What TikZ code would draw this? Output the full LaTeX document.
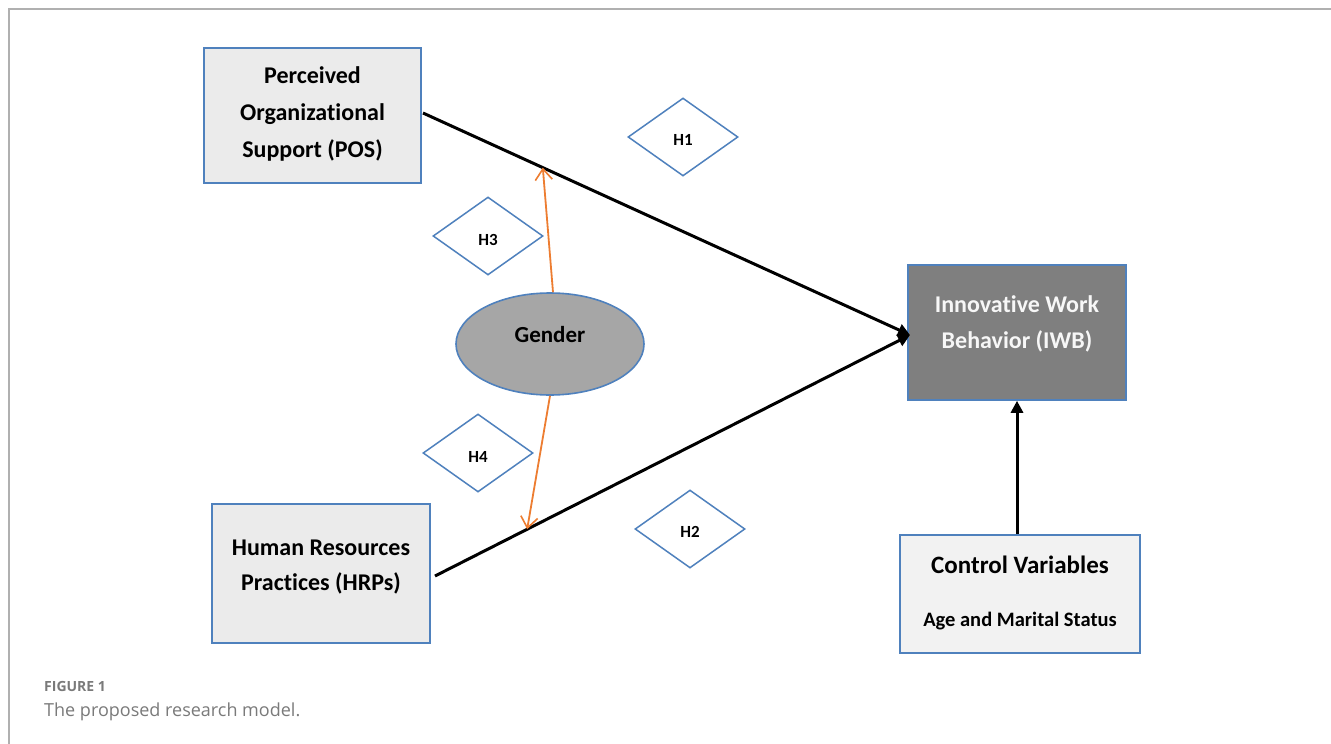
\documentclass[tikz,border=0pt]{standalone}
\usepackage{fontspec}
\setmainfont[Ligatures=NoCommon]{Carlito}
\newfontfamily\capfont{Open Sans}
\usetikzlibrary{shapes.geometric,arrows.meta,calc}
\definecolor{bordblue}{HTML}{4F81BD}
\definecolor{lightbox}{HTML}{EBEBEB}
\definecolor{ctrlbox}{HTML}{F2F2F2}
\definecolor{darkbox}{HTML}{7F7F7F}
\definecolor{gendfill}{HTML}{A6A6A6}
\definecolor{orangeln}{HTML}{ED7D31}
\definecolor{framegray}{HTML}{B0B0B0}
\definecolor{capgray}{HTML}{7A7A7A}
\tikzset{
  varbox/.style={draw=bordblue, line width=1.6pt, fill=lightbox, inner sep=0pt},
  boxtext/.style={align=center, font=\fontsize{24}{37}\selectfont\bfseries, inner sep=0pt},
  hyp/.style={diamond, draw=bordblue, line width=1.5pt, fill=white, aspect=1.41,
    minimum width=110pt, minimum height=78pt, inner sep=0pt},
  hyptext/.style={font=\fontsize{17}{18}\selectfont\bfseries, inner sep=0pt},
  mainarrow/.style={line width=3pt, -{Triangle[length=12pt,width=12pt]}},
  modarrow/.style={orangeln, line width=1.8pt, -{Straight Barb[length=11pt,width=17pt,line width=1.6pt]}}
}
\begin{document}
\begin{tikzpicture}[x=1pt,y=-1pt]
\useasboundingbox (0,0) rectangle (1331,744);
\fill[white] (0,0) rectangle (1331,744);
\draw[framegray, line width=1.6pt] (9,744) -- (9,9) -- (1331,9);
% boxes
\node[varbox, minimum width=217pt, minimum height=135pt] (pos) at (312.5,115.5) {};
\node[boxtext] (post) at (312.5,114) {Perceived\\Organizational\\Support (POS)};
\node[varbox, minimum width=218pt, minimum height=139pt] (hrp) at (321,573.5) {};
\node[boxtext, font=\fontsize{24}{35}\selectfont\bfseries] (hrpt) at (321,567) {Human Resources\\Practices (HRPs)};
\node[varbox, fill=darkbox, minimum width=218pt, minimum height=135pt] (iwb) at (1017,332.5) {};
\node[boxtext, text=white!94!gray, font=\fontsize{24}{36}\selectfont\bfseries] (iwbt) at (1017,324) {Innovative Work\\Behavior (IWB)};
\node[varbox, fill=ctrlbox, minimum width=240pt, minimum height=118pt] (ctrl) at (1020,594) {};
\node[font=\fontsize{25}{28}\selectfont\bfseries] (ctrlt) at (1020,565) {Control Variables};
\node[font=\fontsize{20.5}{24}\selectfont\bfseries] (ctrls) at (1020,621) {Age and Marital Status};
% gender
\node[ellipse, draw=bordblue, line width=1.6pt, fill=gendfill, minimum width=188pt, minimum height=102pt] (gen) at (550,344) {};
\node[font=\fontsize{23}{26}\selectfont\bfseries] (gent) at (550,335) {Gender};
% hypotheses
\node[hyp] (h1) at (683,137) {};
\node[hyptext] (h1t) at (683,140) {H1};
\node[hyp] (h3) at (488,236) {};
\node[hyptext] (h3t) at (488,240) {H3};
\node[hyp] (h4) at (478,453) {};
\node[hyptext] (h4t) at (478,457) {H4};
\node[hyp] (h2) at (690,529) {};
\node[hyptext] (h2t) at (690,532) {H2};
% connectors
\coordinate (tip) at (910,335);
\coordinate (posout) at (423,113);
\coordinate (hrpout) at (435,576);
\draw[mainarrow] (posout) -- (tip);
\draw[mainarrow] (hrpout) -- (tip);
\coordinate (ctop) at ($(ctrl.north)+(-3,0)$);
\draw[mainarrow] (ctop) -- (iwb.south);
\coordinate (m1) at ($(posout)!0.246!(tip)$);
\coordinate (m2) at ($(hrpout)!0.194!(tip)$);
\coordinate (g1) at ($(gen.north)+(3,0)$);
\coordinate (g2) at (gen.south);
\draw[modarrow] (g1) -- (m1);
\draw[modarrow] (g2) -- (m2);
% caption
\node[anchor=base west, inner sep=0pt, text=capgray, font=\capfont\fontsize{14}{15}\selectfont\bfseries] (fig) at (44,691) {FIGURE 1};
\node[anchor=base west, inner sep=0pt, text=capgray, font=\capfont\fontsize{18}{20}\selectfont] (cap) at (44,716) {The proposed research model.};
\end{tikzpicture}
\end{document}
